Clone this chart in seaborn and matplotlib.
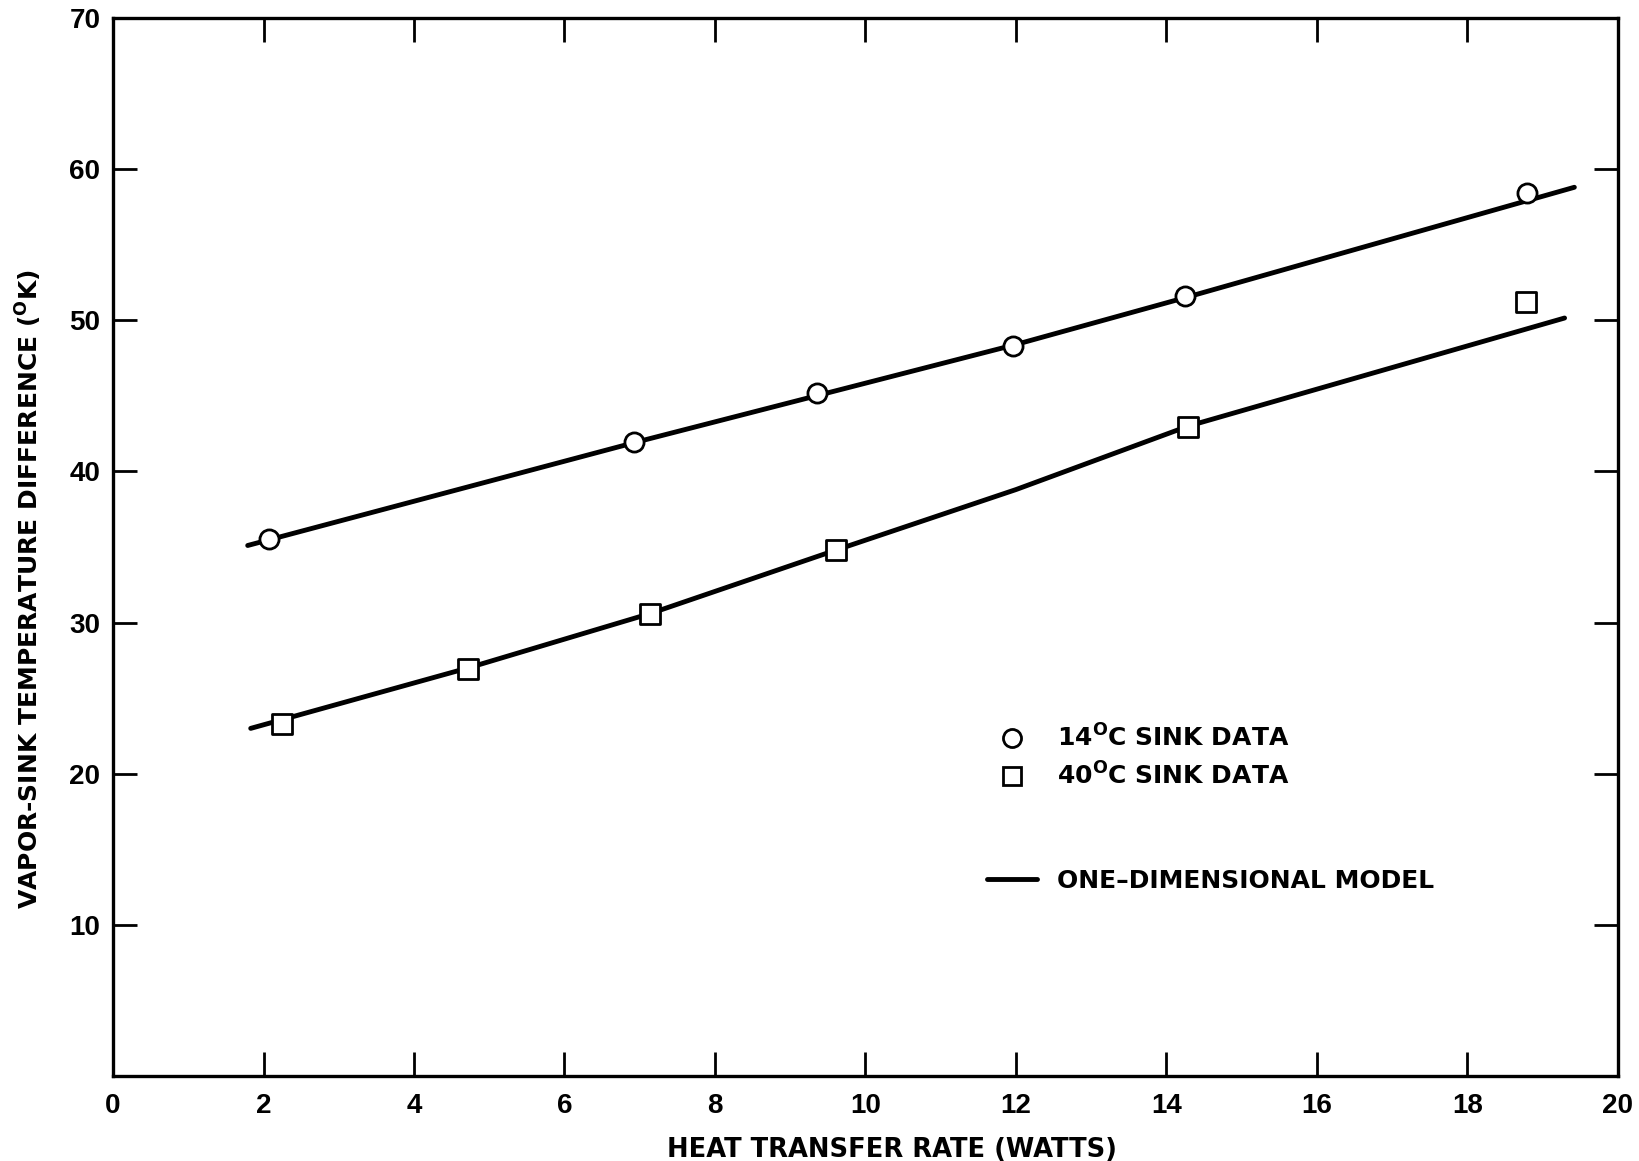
import matplotlib
matplotlib.use("Agg")
import matplotlib.pyplot as plt
import seaborn as sns
import pandas as pd
from matplotlib.lines import Line2D

# ---- data ----
x_14c = [2.07, 6.93, 9.35, 11.96, 14.25, 18.79]
y_14c = [35.5, 41.97, 45.2, 48.3, 51.6, 58.4]

x_40c = [2.25, 4.72, 7.14, 9.61, 14.29, 18.78]
y_40c = [23.3, 26.95, 30.55, 34.8, 42.95, 51.2]

model_14c_x = [1.79, 7.0, 12.0, 14.25, 19.42]
model_14c_y = [35.1, 42.0, 48.4, 51.5, 58.8]

model_40c_x = [1.83, 4.72, 7.14, 9.61, 12.0, 14.29, 19.29]
model_40c_y = [23.0, 27.0, 30.6, 34.8, 38.8, 43.0, 50.15]

x_ticks = [0, 2, 4, 6, 8, 10, 12, 14, 16, 18, 20]
y_ticks = [10, 20, 30, 40, 50, 60, 70]

legend_labels = ["14$^{\\mathrm{O}}$C SINK DATA", "40$^{\\mathrm{O}}$C SINK DATA",
                 "ONE\u2013DIMENSIONAL MODEL"]
x_label = "HEAT TRANSFER RATE (WATTS)"
y_label = "VAPOR-SINK TEMPERATURE DIFFERENCE ($^{\\mathrm{O}}$K)"

# ---- style ----
sns.set_style("ticks")
plt.rcParams["font.family"] = ["DejaVu Sans"]
plt.rcParams["mathtext.fontset"] = "custom"
plt.rcParams["mathtext.rm"] = "DejaVu Sans:bold"
plt.rcParams["mathtext.bf"] = "DejaVu Sans:bold"
plt.rcParams["text.color"] = "black"
plt.rcParams["axes.labelcolor"] = "black"
plt.rcParams["xtick.color"] = "black"
plt.rcParams["ytick.color"] = "black"

fig = plt.figure(figsize=(16.4, 11.61), dpi=100)
ax = fig.add_axes([113 / 1640, 1 - 1076 / 1161, (1618 - 113) / 1640, (1076 - 18) / 1161])

df_m14 = pd.DataFrame({"x": model_14c_x, "y": model_14c_y})
df_m40 = pd.DataFrame({"x": model_40c_x, "y": model_40c_y})
df_14 = pd.DataFrame({"x": x_14c, "y": y_14c})
df_40 = pd.DataFrame({"x": x_40c, "y": y_40c})

sns.lineplot(data=df_m14, x="x", y="y", ax=ax, color="black", lw=3.5, sort=True,
             estimator=None, zorder=2)
sns.lineplot(data=df_m40, x="x", y="y", ax=ax, color="black", lw=3.5, sort=True,
             estimator=None, zorder=2)
sns.scatterplot(data=df_14, x="x", y="y", ax=ax, marker="o", s=190,
                facecolor="white", edgecolor="black", linewidth=2.0, zorder=3)
sns.scatterplot(data=df_40, x="x", y="y", ax=ax, marker="s", s=190,
                facecolor="white", edgecolor="black", linewidth=2.0, zorder=3)

ax.set_xlim(0, 20)
ax.set_ylim(0, 70)
ax.set_xticks(x_ticks)
ax.set_yticks(y_ticks)
tick_font = {"family": "Liberation Sans", "size": 20, "weight": "bold", "color": "black"}
ax.set_xticklabels([str(v) for v in x_ticks], fontdict=tick_font)
ax.set_yticklabels([str(v) for v in y_ticks], fontdict=tick_font)
ax.tick_params(direction="in", length=17, width=2.0, top=True, right=True,
               color="black", pad=9)
ax.tick_params(axis="x", pad=12)
for sp in ax.spines.values():
    sp.set_visible(True)
    sp.set_linewidth(2.4)
    sp.set_color("black")

ax.set_xlabel(x_label, fontsize=18.5, fontweight="bold", color="black")
ax.set_ylabel(y_label, fontsize=18, fontweight="bold", color="black")
ax.xaxis.set_label_coords(0.5177, -0.0577)
ax.yaxis.set_label_coords(-0.046, 0.4605)

handles = [
    Line2D([], [], marker="o", ls="none", markersize=13, mfc="white", mec="black", mew=2.0),
    Line2D([], [], marker="s", ls="none", markersize=13, mfc="white", mec="black", mew=2.0),
    Line2D([], [], ls="none"),
    Line2D([], [], ls="none"),
    Line2D([], [], color="black", lw=3.5),
]
labels = [legend_labels[0], legend_labels[1], "", "", legend_labels[2]]
leg = ax.legend(handles, labels, loc="upper left", bbox_to_anchor=(0.581, 0.332),
                frameon=False, handlelength=2.0, handletextpad=0.8,
                labelspacing=0.42, borderpad=0, borderaxespad=0,
                prop={"family": "DejaVu Sans", "size": 18, "weight": "bold"})
for t in leg.get_texts():
    t.set_color("black")

fig.savefig("out.png", dpi=100, facecolor="white")
